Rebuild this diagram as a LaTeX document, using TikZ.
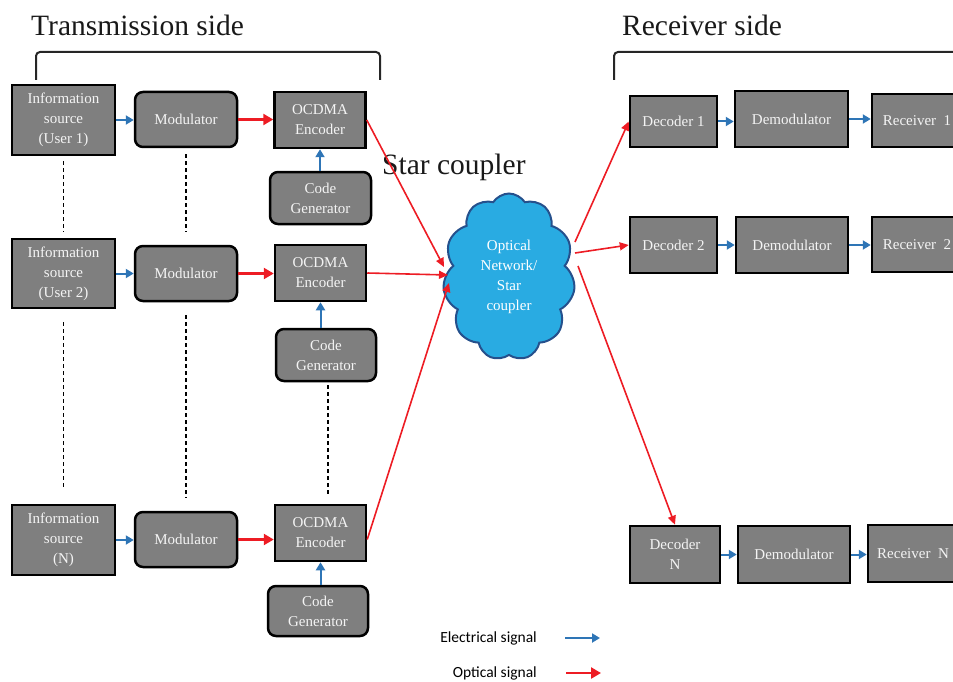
\documentclass[tikz,border=0pt]{standalone}
\usepackage{fontspec}
\setmainfont{Liberation Serif}
\newfontfamily\legendfont{Carlito}
\usetikzlibrary{arrows.meta,shapes.symbols,calc}
\definecolor{boxgray}{RGB}{127,127,127}
\definecolor{boxtext}{RGB}{244,244,244}
\definecolor{elecblue}{RGB}{46,117,182}
\definecolor{optred}{RGB}{237,28,36}
\definecolor{cloudblue}{RGB}{41,171,226}
\definecolor{cloudedge}{RGB}{37,80,140}
\begin{document}
\begin{tikzpicture}[x=1pt,y=-1pt,
  blk/.style={draw=black, line width=2.5pt, fill=boxgray, text=boxtext, align=center,
    inner sep=0pt, font=\fontsize{15}{20}\selectfont},
  rblk/.style={blk, rounded corners=8pt},
  elec/.style={draw=elecblue, line width=2pt, -{Triangle[length=8pt,width=9pt]}},
  opt/.style={draw=optred, line width=3pt, -{Triangle[length=10pt,width=11pt]}},
  fibre/.style={draw=optred, line width=1.6pt, -{Triangle[length=9pt,width=8pt]}},
  sep/.style={draw=black, line width=1.5pt, dash pattern=on 4pt off 3pt},
  bracket/.style={draw=black!85, line width=2pt, rounded corners=4pt},
  heading/.style={font=\fontsize{29.5}{34}\selectfont, text=black!90, inner sep=0pt},
  legend/.style={font=\legendfont\fontsize{15.5}{18}\selectfont, inner sep=0pt}
]
\useasboundingbox (0,0) rectangle (953,682);
\clip (0,0) rectangle (953,682);

% headings and brackets
\node[heading, anchor=west] (txside) at (31,25) {Transmission side};
\node[heading, anchor=west] (rxside) at (622,25) {Receiver side};
\node[heading, anchor=west] (starlbl) at (382,167) {Star coupler};
\draw[bracket] (36,80) -- (36,52) -- (380,52) -- (380,80);
\draw[bracket] (614,80) -- (614,52) -- (960,52);

% transmitter: user 1
\node[blk, minimum width=103pt, minimum height=70pt] (src1) at (63.5,120) {Information\\source\\(User 1)};
\node[rblk, minimum width=102pt, minimum height=55pt] (mod1) at (186,119.5) {Modulator};
\node[blk, minimum width=91pt, minimum height=56pt] (enc1) at (320,120) {OCDMA\\Encoder};
\node[rblk, minimum width=101pt, minimum height=52pt] (gen1) at (320.5,198) {Code\\Generator};

% transmitter: user 2
\node[blk, minimum width=103pt, minimum height=69pt] (src2) at (63.5,273.5) {Information\\source\\(User 2)};
\node[rblk, minimum width=102pt, minimum height=55pt] (mod2) at (186,273.5) {Modulator};
\node[blk, minimum width=91pt, minimum height=56pt] (enc2) at (320.5,273) {OCDMA\\Encoder};
\node[rblk, minimum width=100pt, minimum height=52pt] (gen2) at (326,355) {Code\\Generator};

% transmitter: user N
\node[blk, minimum width=103pt, minimum height=70pt] (srcN) at (63.5,540) {Information\\source\\(N)};
\node[rblk, minimum width=102pt, minimum height=55pt] (modN) at (186,539.5) {Modulator};
\node[blk, minimum width=91pt, minimum height=56pt] (encN) at (320.5,533) {OCDMA\\Encoder};
\node[rblk, minimum width=100pt, minimum height=50pt] (genN) at (318,611) {Code\\Generator};

% dashed continuation marks
\draw[sep] ($(src1.south)+(0,5)$) -- ($(src2.north)+(0,-6)$);
\draw[sep] ($(mod1.south)+(0,6)$) -- ($(mod2.north)+(0,-13)$);
\draw[sep] ($(src2.south)+(0,13)$) -- ($(srcN.north)+(0,-14)$);
\draw[sep] ($(mod2.south)+(0,13)$) -- ($(modN.north)+(0,-13)$);
\draw[sep] ($(gen2.south)+(2,3)$) -- ($(encN.north)+(7.5,-7)$);

% transmitter links
\foreach \r in {1,2,N}{
  \draw[elec] (src\r.east) -- (src\r.east -| mod\r.west);
  \draw[opt] (mod\r.east) -- (mod\r.east -| enc\r.west);
  \draw[elec] (gen\r.north -| enc\r.south) -- (enc\r.south);
}

% star coupler
\node[cloud, cloud puffs=11, cloud puff arc=115, aspect=0.79, minimum width=132pt,
  minimum height=167pt, fill=cloudblue, draw=cloudedge, line width=2pt, text=white,
  align=center, inner sep=0pt, font=\fontsize{15}{20}\selectfont] (cloud) at (509,277)
  {Optical\\Network/\\Star\\coupler};
\coordinate (cin1) at (444,267);
\coordinate (cin2) at (448,275);
\coordinate (cin3) at (449,283);
\coordinate (cout1) at (575,242);
\coordinate (cout2) at (575,253);
\coordinate (cout3) at (578,266);

% receiver side
\node[blk, minimum width=87pt, minimum height=51pt] (dec1) at (673.5,121.5) {Decoder 1};
\node[blk, minimum width=113pt, minimum height=56pt] (dem1) at (791.5,119) {Demodulator};
\node[blk, minimum width=90pt, minimum height=53pt] (rec1) at (917,120.5) {Receiver~~1};

\node[blk, minimum width=87pt, minimum height=56pt] (dec2) at (673.5,245) {Decoder 2};
\node[blk, minimum width=112pt, minimum height=56pt] (dem2) at (792,245) {Demodulator};
\node[blk, minimum width=90pt, minimum height=55pt] (rec2) at (917,244.5) {Receiver~~2};

\node[blk, minimum width=90pt, minimum height=57pt] (decN) at (675,554.5) {Decoder\\N};
\node[blk, minimum width=112pt, minimum height=57pt] (demN) at (794,554.5) {Demodulator};
\node[blk, minimum width=90pt, minimum height=57pt] (recN) at (913,553.5) {Receiver~~N};

\foreach \r in {1,2,N}{
  \draw[elec] (dec\r.east) -- (dec\r.east -| dem\r.west);
  \draw[elec] (dem\r.east) -- (dem\r.east -| rec\r.west);
}

% optical paths through the coupler
\draw[fibre] (enc1.east) -- (cin1);
\draw[fibre] (enc2.east) -- (cin2);
\draw[fibre] (modN.east -| encN.east) -- (cin3);
\draw[fibre] (cout1) -- (dec1.west);
\draw[fibre] (cout2) -- (dec2.west);
\draw[fibre] (cout3) -- (decN.north);

% legend
\node[legend, anchor=east] (lgelec) at (537,638) {Electrical signal};
\node[legend, anchor=east] (lgopt) at (537,673) {Optical signal};
\coordinate (lgelecA) at (565,638);
\coordinate (lgoptA) at (566,673);
\draw[elec] (lgelecA) -- ++(35,0);
\draw[opt, line width=2.5pt] (lgoptA) -- ++(35,0);
\end{tikzpicture}
\end{document}
